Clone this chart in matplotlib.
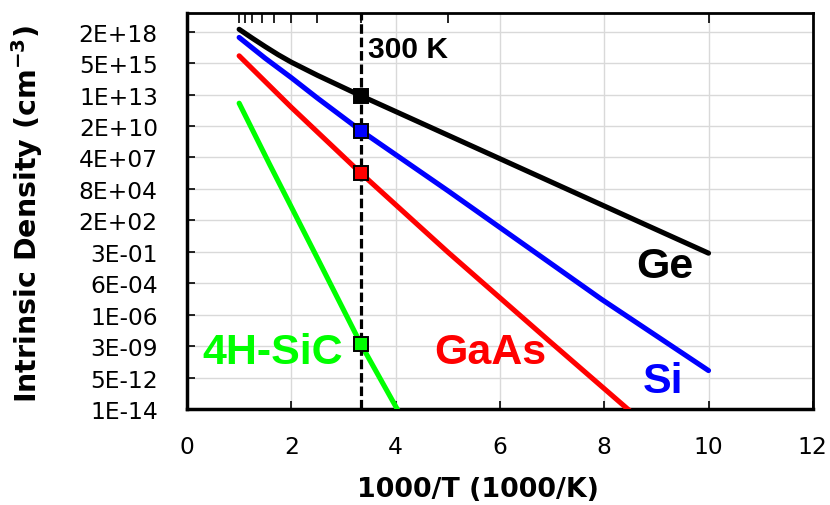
import numpy as np
import matplotlib
matplotlib.use("Agg")
from matplotlib import pyplot as plt
from matplotlib.ticker import FixedLocator, FixedFormatter

# values (x = 1000/T, y = intrinsic density in cm^-3)
ge_x = [1.0, 1.25, 1.5, 1.75, 2.0, 2.5, 3.333, 5.0, 7.0, 8.85, 10.0]
ge_n = [4.0e18, 7.0e17, 1.3e17, 2.6e16, 6.0e15, 4.5e14, 7.9e12, 3.3e9, 2.9e5, 51, 0.24]

si_x = [1.0, 1.5, 2.0, 2.5, 3.333, 5.0, 7.94, 10.0]
si_n = [8e17, 1.3e16, 2.8e14, 5e12, 8e9, 5.6e4, 2.8e-5, 2e-11]

gaas_x = [1.0, 2.0, 3.333, 5.0, 6.93, 8.45, 9.0]
gaas_n = [2.1e16, 8e11, 1.8e6, 0.3, 8e-9, 1e-14, 8e-17]

sic_x = [1.0, 1.58, 2.5, 3.333, 4.03, 4.3]
sic_n = [1.8e12, 1.1e7, 0.09, 3.8e-9, 1e-14, 1.5e-16]

# 300 K points
x300 = 1000 / 300
n300 = [7.9e12, 8e9, 1.8e6, 3.8e-9]

# top axis temperatures (K)
temps = [1000, 900, 800, 700, 600, 500, 400, 300, 200, 100]

ytick_labels = ["1E-14", "5E-12", "3E-09", "1E-06", "6E-04", "3E-01", "2E+02",
                "8E+04", "4E+07", "2E+10", "1E+13", "5E+15", "2E+18"]
ytick_vals = [10 ** (-14 + k * 2.6995) for k in range(len(ytick_labels))]

colors = ["black", "#0000ff", "#ff0000", "#00ff00"]

fig = plt.figure(figsize=(8.3, 5.06), dpi=100)
ax = fig.add_axes([0.2253, 0.1897, 0.754, 0.7826])

ax.set_yscale("log")
ax.set_xlim(0, 12)
ax.set_ylim(1e-14, 1e20)

ax.yaxis.set_major_locator(FixedLocator(ytick_vals))
ax.yaxis.set_major_formatter(FixedFormatter(ytick_labels))
ax.yaxis.set_minor_locator(FixedLocator([]))
ax.set_xticks(np.arange(0, 13, 2))

ax.grid(True, color="#d9d9d9", lw=1)
ax.set_axisbelow(True)

lines = [(ge_x, ge_n), (si_x, si_n), (gaas_x, gaas_n), (sic_x, sic_n)]
for (xs, ns), c in zip(lines, colors):
    ax.plot(xs, ns, color=c, lw=3.7, solid_capstyle="round",
            solid_joinstyle="round", zorder=3)

ax.axvline(x300, color="black", lw=2.3, linestyle=(0, (3, 1.2)), zorder=4)

for n, c in zip(n300, colors):
    ax.plot([x300], [n], marker="s", ms=10.5, mfc=c, mec="black", mew=1.4,
            zorder=5, clip_on=False)

ax.tick_params(axis="both", direction="in", length=6, width=1.2,
               labelsize=16.8, colors="black")
ax.tick_params(axis="y", pad=21)
ax.tick_params(axis="x", pad=19)

for s in ["left", "bottom"]:
    ax.spines[s].set_linewidth(2.5)
for s in ["top", "right"]:
    ax.spines[s].set_linewidth(2)

top = ax.twiny()
top.set_xlim(ax.get_xlim())
top.set_xticks([1000 / t for t in temps])
top.set_xticklabels([])
top.tick_params(axis="x", direction="in", length=7, width=1.2)
for s in top.spines.values():
    s.set_visible(False)

ax.set_xlabel("1000/T (1000/K)", fontsize=19.4, fontweight="bold")
ax.xaxis.label.set_va("center")
ax.xaxis.set_label_coords(0.465, -0.202)
ax.set_ylabel("Intrinsic Density (cm$^{\\mathbf{-3}}$)", fontsize=20.5,
              fontweight="bold")
ax.yaxis.label.set_va("center")
ax.yaxis.set_label_coords(-0.256, 0.495)

lab = dict(family="Liberation Sans", fontweight="bold", va="center", ha="center")
ax.text(3.47, 10 ** 16.9, "300 K", fontsize=21.6, color="black",
        **{**lab, "ha": "left"})
ax.text(9.17, 10 ** -1.75, "Ge", fontsize=31, color=colors[0], **lab)
ax.text(9.12, 10 ** -11.6, "Si", fontsize=31, color=colors[1], **lab)
ax.text(5.82, 10 ** -9.1, "GaAs", fontsize=31, color=colors[2], **lab)
ax.text(1.65, 10 ** -9.1, "4H-SiC", fontsize=31, color=colors[3], **lab)

fig.savefig("out.png", dpi=100)
